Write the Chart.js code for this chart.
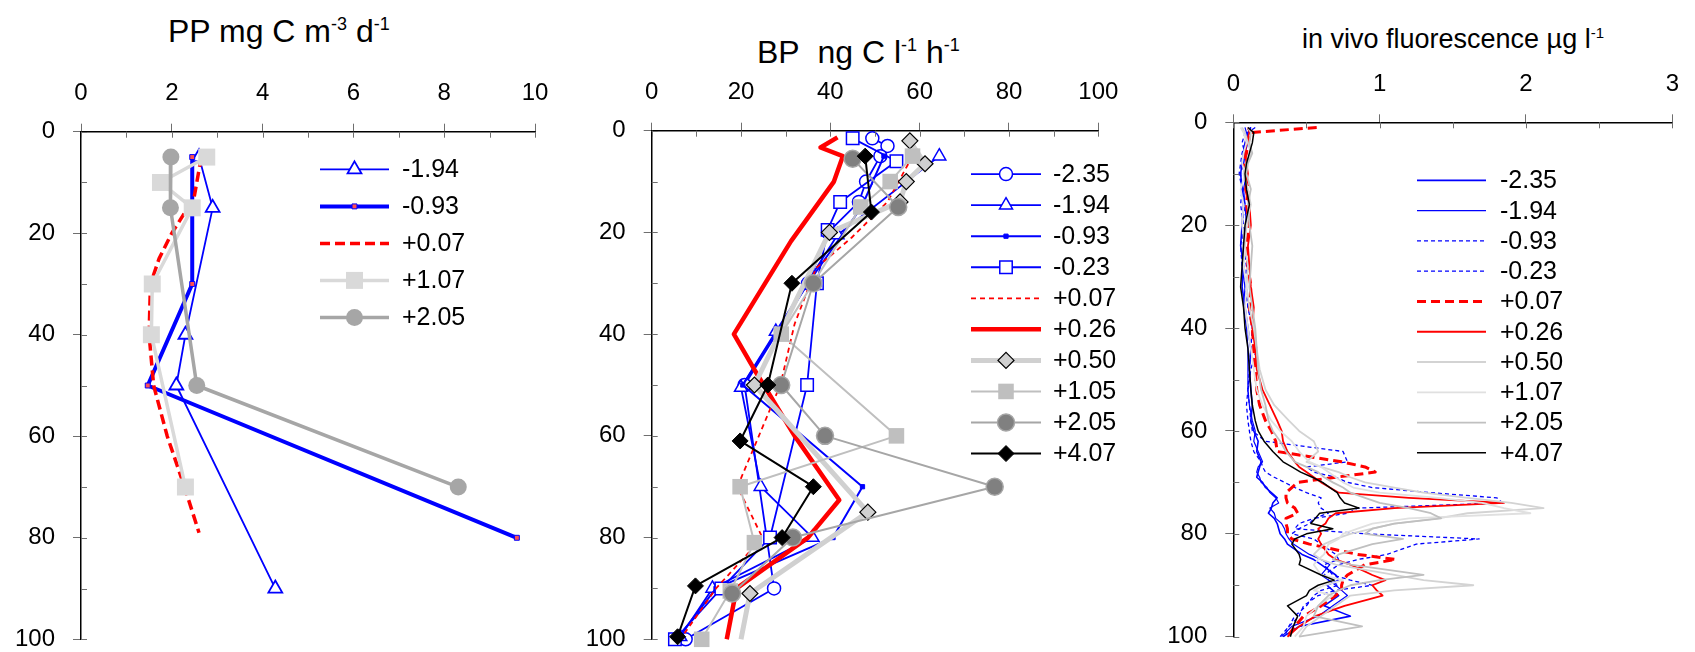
<!DOCTYPE html>
<html>
<head>
<meta charset="utf-8">
<script src="https://cdn.jsdelivr.net/npm/chart.js@4.4.1/dist/chart.umd.min.js"></script>
<style>
  html, body { margin: 0; padding: 0; background: #fff; }
  body { width: 1695px; height: 652px; overflow: hidden; position: relative; font-family: 'Liberation Sans', Arial, sans-serif; }
  canvas { position: absolute; left: 0; top: 0; }
  .title { position: absolute; white-space: nowrap; color: #000; line-height: 1; }
  .sup { position: relative; }
</style>
</head>
<body>
<div class="title" style="left:168px; top:15px; font-size:32px;">PP mg C m<span class="sup" style="font-size:18px; top:-12px;">-3</span> d<span class="sup" style="font-size:18px; top:-12px;">-1</span></div>
<div class="title" style="left:757px; top:36px; font-size:32px;">BP&nbsp; ng C l<span class="sup" style="font-size:18px; top:-12px;">-1</span> h<span class="sup" style="font-size:18px; top:-12px;">-1</span></div>
<div class="title" style="left:1302px; top:26px; font-size:27px;">in vivo fluorescence µg l<span class="sup" style="font-size:15px; top:-10px;">-1</span></div>

<canvas id="ppChart" width="1695" height="700"></canvas>
<canvas id="bpChart" width="1695" height="700"></canvas>
<canvas id="fluChart" width="1695" height="700"></canvas>

<script>
// ---- PP, mg C m-3 d-1 (depth in m) ----
const ppDepthM194 = [5, 15, 40, 50, 90];
const ppM194 = [2.6, 2.9, 2.3, 2.1, 4.28];
const ppDepthM093 = [5, 30, 50, 80];
const ppM093 = [2.45, 2.45, 1.47, 9.6];
const ppDepthP007 = [5, 13, 20, 25, 30, 40, 50, 60, 70, 79];
const ppP007 = [2.65, 2.49, 2.0, 1.72, 1.53, 1.5, 1.6, 1.9, 2.28, 2.6];
const ppDepthP107 = [5, 10, 15, 30, 40, 70];
const ppP107 = [2.77, 1.75, 2.45, 1.57, 1.55, 2.3];
const ppDepthP205 = [5, 15, 50, 70];
const ppP205 = [1.98, 1.97, 2.55, 8.31];

// ---- BP, ng C l-1 h-1 ----
const bpDepthM235 = [1.5, 3, 5, 10, 14, 20, 30, 50, 90, 100];
const bpM235 = [49.4, 52.8, 51.2, 48, 46.4, 39.5, 35, 20.8, 27.4, 7.6];
const bpDepthM194 = [5, 20.5, 39.5, 50.5, 70, 80, 90, 99.5];
const bpM194 = [64.4, 41.6, 27.8, 20, 24.4, 36, 13.6, 6.4];
const bpDepthM093 = [5, 15, 30, 50, 70, 80, 90, 100];
const bpM093 = [52, 47, 35, 20.4, 47.2, 40.6, 14.4, 5.6];
const bpDepthM023 = [1.5, 6, 14, 19.5, 30, 50, 80, 90, 100];
const bpM023 = [45, 54.8, 42.2, 39.4, 37, 34.8, 26.5, 15.6, 5.2];
const bpDepthP007 = [5, 14, 21, 27, 38, 50, 60, 70, 80, 90, 100];
const bpP007 = [58.4, 52.8, 44.8, 36.8, 32, 28.8, 24, 19.2, 24.8, 14.4, 6.4];
const bpDepthP026 = [1.3, 3.3, 5, 10, 21.7, 40, 47, 60, 72.6, 80, 90, 100];
const bpP026 = [41.6, 37.8, 42.8, 40.8, 31.2, 18.4, 23, 32, 42, 35, 19, 16.8];
const bpDepthP050 = [2, 6.5, 10, 14, 20, 50, 75, 91, 100];
const bpP050 = [57.8, 61.2, 57, 55.6, 39.8, 23, 48.4, 22, 20];
const bpDepthP105 = [5, 10, 15, 40, 60, 70, 81, 90.5, 100];
const bpP105 = [58.4, 53.4, 46.8, 29, 54.8, 19.8, 23, 17.6, 11.2];
const bpDepthP205 = [5.5, 15, 30, 50, 60, 70, 80, 91];
const bpP205 = [45, 55.2, 36.2, 29, 38.8, 76.8, 31.6, 18];
const bpDepthP407 = [5, 16, 30, 50, 61, 70, 80, 89.5, 99.5];
const bpP407 = [47.8, 49.2, 31.4, 26, 19.8, 36.2, 29.2, 9.8, 5.8];

// ---- in vivo fluorescence, µg l-1, shared depth grid ----
const fluDepth = [1, 2, 4, 6, 8, 10, 13, 16, 20, 24,
  28, 32, 36, 40, 44, 48, 52, 55, 58, 60,
  62, 64, 66, 67, 68, 69, 70, 71, 72, 73,
  74, 75, 76, 77, 78, 79, 80, 81, 82, 84,
  85, 86, 88, 89, 90, 91, 92, 94, 96, 98,
  100];
const fluM235 = [0.12, 0.10, 0.08, 0.07, 0.06, 0.05, 0.06, 0.07, 0.06, 0.05,
  0.07, 0.06, 0.08, 0.10, 0.12, 0.11, 0.12, 0.13, 0.12, 0.14,
  0.17, 0.16, 0.19, 0.18, 0.17, 0.16, 0.20, 0.22, 0.26, 0.30,
  0.27, 0.26, 0.24, 0.28, 0.30, 0.31, 0.32, 0.35, 0.37, 0.47,
  0.55, 0.60, 0.70, 0.72, 0.64, 0.68, 0.72, 0.62, 0.80, 0.45,
  0.34];
const fluM194 = [0.08, 0.09, 0.10, 0.08, 0.07, 0.09, 0.07, 0.08, 0.09, 0.07,
  0.06, 0.08, 0.07, 0.09, 0.10, 0.10, 0.10, 0.11, 0.13, 0.15,
  0.14, 0.17, 0.20, 0.17, 0.16, 0.18, 0.19, 0.23, 0.25, 0.29,
  0.31, 0.25, 0.28, 0.29, 0.33, 0.35, 0.36, 0.38, 0.41, 0.52,
  0.60, 0.66, 0.60, 0.65, 0.70, 0.74, 0.78, 0.68, 0.58, 0.40,
  0.33];
const fluM093 = [0.15, 0.10, 0.08, 0.06, 0.05, 0.04, 0.06, 0.05, 0.07, 0.05,
  0.06, 0.09, 0.10, 0.14, 0.16, 0.12, 0.10, 0.11, 0.12, 0.13,
  0.22, 0.75, 0.78, 0.50, 0.55, 0.70, 0.78, 0.95, 1.35, 1.80,
  1.84, 0.85, 0.78, 0.55, 0.52, 0.45, 0.40, 0.55, 0.60, 0.70,
  0.72, 0.62, 0.68, 0.80, 0.95, 0.70, 0.58, 0.48, 0.45, 0.38,
  0.32];
const fluM023 = [0.12, 0.08, 0.06, 0.08, 0.07, 0.05, 0.06, 0.08, 0.06, 0.07,
  0.09, 0.08, 0.10, 0.13, 0.12, 0.11, 0.10, 0.09, 0.10, 0.11,
  0.12, 0.14, 0.19, 0.20, 0.22, 0.28, 0.35, 0.42, 0.50, 0.60,
  0.58, 0.60, 0.65, 0.55, 0.45, 0.42, 0.90, 1.68, 1.25, 1.05,
  0.85, 0.72, 0.62, 0.65, 0.72, 0.60, 0.55, 0.50, 0.42, 0.38,
  0.35];
const fluP007 = [0.57, 0.12, 0.10, 0.09, 0.07, 0.08, 0.10, 0.09, 0.11, 0.09,
  0.10, 0.12, 0.11, 0.13, 0.14, 0.15, 0.16, 0.18, 0.22, 0.26,
  0.29, 0.30, 0.74, 0.90, 0.97, 0.70, 0.44, 0.40, 0.36, 0.36,
  0.37, 0.42, 0.44, 0.36, 0.36, 0.37, 0.37, 0.40, 0.52, 0.85,
  1.11, 0.90, 0.78, 0.75, 0.74, 0.74, 0.70, 0.60, 0.48, 0.42,
  0.37];
const fluP026 = [0.10, 0.11, 0.09, 0.08, 0.09, 0.10, 0.08, 0.11, 0.12, 0.10,
  0.11, 0.12, 0.14, 0.13, 0.15, 0.16, 0.20, 0.25, 0.30, 0.33,
  0.34, 0.37, 0.42, 0.45, 0.50, 0.55, 0.60, 0.66, 0.72, 1.20,
  1.85, 1.10, 0.70, 0.65, 0.63, 0.58, 0.60, 0.58, 0.60, 0.65,
  0.70, 0.80, 0.95, 1.04, 0.95, 0.98, 1.02, 0.76, 0.56, 0.45,
  0.37];
const fluP050 = [0.06, 0.08, 0.10, 0.12, 0.09, 0.07, 0.10, 0.12, 0.09, 0.08,
  0.10, 0.09, 0.11, 0.14, 0.16, 0.18, 0.22, 0.28, 0.38, 0.45,
  0.55, 0.58, 0.50, 0.60, 0.72, 0.80, 0.90, 1.10, 1.30, 1.60,
  1.90, 2.12, 1.60, 1.40, 1.10, 0.95, 0.80, 0.70, 0.62, 0.55,
  0.60, 0.70, 1.10, 1.30, 1.64, 1.10, 0.80, 0.70, 0.60, 0.50,
  0.45];
const fluP107 = [0.05, 0.07, 0.09, 0.07, 0.06, 0.08, 0.05, 0.07, 0.06, 0.08,
  0.07, 0.09, 0.08, 0.10, 0.12, 0.14, 0.16, 0.20, 0.26, 0.32,
  0.40, 0.45, 0.52, 0.60, 0.65, 0.70, 0.75, 0.82, 1.00, 1.40,
  1.70, 1.85, 2.03, 1.20, 0.95, 0.85, 0.75, 0.72, 0.65, 0.62,
  0.58, 0.55, 0.60, 0.75, 0.62, 0.55, 0.68, 0.58, 0.50, 0.48,
  0.42];
const fluP205 = [0.10, 0.12, 0.11, 0.13, 0.10, 0.09, 0.12, 0.10, 0.11, 0.13,
  0.12, 0.11, 0.13, 0.15, 0.16, 0.17, 0.19, 0.22, 0.24, 0.27,
  0.32, 0.36, 0.42, 0.50, 0.58, 0.62, 0.68, 0.75, 0.80, 0.90,
  1.00, 1.20, 1.35, 1.42, 1.10, 0.95, 0.90, 1.16, 0.95, 0.72,
  0.68, 0.80, 1.30, 1.00, 0.80, 0.72, 0.65, 0.58, 0.55, 0.88,
  0.45];
const fluP407 = [0.10, 0.14, 0.13, 0.11, 0.09, 0.08, 0.09, 0.11, 0.08, 0.07,
  0.06, 0.05, 0.07, 0.08, 0.10, 0.11, 0.12, 0.13, 0.15, 0.17,
  0.21, 0.27, 0.34, 0.40, 0.46, 0.54, 0.61, 0.66, 0.71, 0.73,
  0.76, 0.86, 0.59, 0.56, 0.53, 0.68, 0.50, 0.42, 0.40, 0.45,
  0.46, 0.45, 0.60, 0.69, 0.58, 0.52, 0.50, 0.37, 0.44, 0.41,
  0.39];

const FONT = "'Liberation Sans', Arial, sans-serif";
Chart.defaults.font.family = FONT;
Chart.defaults.color = '#000';

function profile(depths, values) {
    return depths.map((d, i) => ({ x: values[i], y: d }));
}

function series(label, depths, values, style) {
    return Object.assign({
        label: label,
        data: profile(depths, values),
        showLine: true,
        fill: false,
        tension: 0,
        clip: false,
        pointRadius: 0,
        borderJoinStyle: 'round'
    }, style);
}

// small inward ticks like the spreadsheet's minor ticks
const minorTicks = {
    id: 'minorTicks',
    afterDatasetsDraw(chart, args, opts) {
        const { ctx, chartArea } = chart;
        const xs = chart.scales.x;
        const ys = chart.scales.y;
        ctx.save();
        ctx.strokeStyle = '#6f6f6f';
        ctx.lineWidth = 1;
        ctx.beginPath();
        for (let v = xs.min; v <= xs.max + 1e-9; v += opts.x) {
            const px = Math.round(xs.getPixelForValue(v)) + 0.5;
            ctx.moveTo(px, chartArea.top);
            ctx.lineTo(px, chartArea.top + opts.len);
        }
        for (let v = ys.min; v <= ys.max + 1e-9; v += opts.y) {
            const py = Math.round(ys.getPixelForValue(v)) + 0.5;
            ctx.moveTo(chartArea.left, py);
            ctx.lineTo(chartArea.left + opts.len, py);
        }
        ctx.stroke();
        ctx.restore();
    }
};

function drawMarker(ctx, ds, x, y) {
    const r = Array.isArray(ds.pointRadius) ? ds.pointRadius[0] : ds.pointRadius;
    if (!r) return;
    ctx.save();
    ctx.setLineDash([]);
    ctx.fillStyle = ds.pointBackgroundColor;
    ctx.strokeStyle = ds.pointBorderColor;
    ctx.lineWidth = ds.pointBorderWidth || 0;
    Chart.helpers.drawPoint(ctx, {
        pointStyle: ds.pointStyle,
        rotation: 0,
        radius: r,
        borderWidth: ds.pointBorderWidth || 0
    }, x, y);
    ctx.restore();
}

// legend drawn beside the profiles, one row per dataset
const sideLegend = {
    id: 'sideLegend',
    afterDatasetsDraw(chart, args, opts) {
        const ctx = chart.ctx;
        chart.data.datasets.forEach((ds, i) => {
            const y = opts.y0 + i * opts.step;
            ctx.save();
            ctx.strokeStyle = ds.borderColor;
            ctx.lineWidth = ds.borderWidth;
            ctx.setLineDash(ds.borderDash || []);
            ctx.beginPath();
            ctx.moveTo(opts.x1, y);
            ctx.lineTo(opts.x2, y);
            ctx.stroke();
            ctx.restore();
            drawMarker(ctx, ds, (opts.x1 + opts.x2) / 2, y);
            ctx.save();
            ctx.fillStyle = '#000';
            ctx.font = '25px ' + FONT;
            ctx.textAlign = 'left';
            ctx.textBaseline = 'middle';
            ctx.fillText(ds.label, opts.tx, y + 1);
            ctx.restore();
        });
    }
};

function axes(xMax, xStep) {
    const grid = { drawOnChartArea: false, drawTicks: true, tickLength: 8, color: '#6f6f6f', lineWidth: 1 };
    const border = { display: true, color: '#000', width: 1.5 };
    return {
        x: {
            type: 'linear', position: 'top', min: 0, max: xMax,
            ticks: { stepSize: xStep, padding: 16, font: { size: 24 }, maxRotation: 0, autoSkip: false },
            grid: grid, border: border,
            afterFit: (s) => { s.height = 50; }
        },
        y: {
            type: 'linear', reverse: true, min: 0, max: 100,
            ticks: { stepSize: 20, padding: 18, font: { size: 24 }, autoSkip: false },
            grid: grid, border: border,
            afterFit: (s) => { s.width = 80; }
        }
    };
}

function makeChart(id, datasets, scales, padding, minor, legend) {
    const n = datasets.length;
    datasets.forEach((ds, i) => { ds.order = n - i; });
    return new Chart(document.getElementById(id), {
        type: 'scatter',
        data: { datasets: datasets },
        options: {
            responsive: false,
            devicePixelRatio: 1,
            animation: false,
            events: [],
            layout: { padding: padding },
            scales: scales,
            plugins: {
                legend: { display: false },
                tooltip: { enabled: false },
                minorTicks: minor,
                sideLegend: legend
            }
        },
        plugins: [minorTicks, sideLegend]
    });
}

const BLUE = '#0000ff';
const RED = '#ff0000';

makeChart('ppChart', [
    series('-1.94', ppDepthM194, ppM194, { borderColor: BLUE, borderWidth: 1.8, pointStyle: 'triangle', pointRadius: 8,
        pointBackgroundColor: '#fff', pointBorderColor: BLUE, pointBorderWidth: 1.8 }),
    series('-0.93', ppDepthM093, ppM093, { borderColor: BLUE, borderWidth: 4, pointStyle: 'rect', pointRadius: 3.5,
        pointBackgroundColor: '#ff5050', pointBorderColor: BLUE, pointBorderWidth: 1 }),
    series('+0.07', ppDepthP007, ppP007, { borderColor: RED, borderWidth: 3.5, borderDash: [10, 5] }),
    series('+1.07', ppDepthP107, ppP107, { borderColor: '#d9d9d9', borderWidth: 3.5, pointStyle: 'rect', pointRadius: 12,
        pointBackgroundColor: '#d9d9d9', pointBorderColor: '#d9d9d9', pointBorderWidth: 0 }),
    series('+2.05', ppDepthP205, ppP205, { borderColor: '#a6a6a6', borderWidth: 3.5, pointStyle: 'circle', pointRadius: 8.5,
        pointBackgroundColor: '#a6a6a6', pointBorderColor: '#a6a6a6', pointBorderWidth: 0 })
], axes(10, 2), { left: 1, right: 1160, top: 81.7, bottom: 60.7 },
   { x: 1, y: 10, len: 6 },
   { x1: 320, x2: 389, tx: 402, y0: 169.4, step: 37 });

makeChart('bpChart', [
    series('-2.35', bpDepthM235, bpM235, { borderColor: BLUE, borderWidth: 1.8, pointStyle: 'circle', pointRadius: 6.5,
        pointBackgroundColor: '#fff', pointBorderColor: BLUE, pointBorderWidth: 1.5 }),
    series('-1.94', bpDepthM194, bpM194, { borderColor: BLUE, borderWidth: 1.8, pointStyle: 'triangle', pointRadius: 7.5,
        pointBackgroundColor: '#fff', pointBorderColor: BLUE, pointBorderWidth: 1.5 }),
    series('-0.93', bpDepthM093, bpM093, { borderColor: BLUE, borderWidth: 2, pointStyle: 'rect', pointRadius: 3,
        pointBackgroundColor: BLUE, pointBorderColor: BLUE, pointBorderWidth: 1 }),
    series('-0.23', bpDepthM023, bpM023, { borderColor: BLUE, borderWidth: 1.8, pointStyle: 'rect', pointRadius: 8.8,
        pointBackgroundColor: '#fff', pointBorderColor: BLUE, pointBorderWidth: 1.5 }),
    series('+0.07', bpDepthP007, bpP007, { borderColor: RED, borderWidth: 1.8, borderDash: [5, 4] }),
    series('+0.26', bpDepthP026, bpP026, { borderColor: RED, borderWidth: 4.5 }),
    series('+0.50', bpDepthP050, bpP050, { borderColor: '#d0d0d0', borderWidth: 5, pointStyle: 'rectRot',
        pointRadius: [8, 8, 8, 8, 8, 8, 8, 8, 0],
        pointBackgroundColor: '#d0d0d0', pointBorderColor: '#000', pointBorderWidth: 1.2 }),
    series('+1.05', bpDepthP105, bpP105, { borderColor: '#bfbfbf', borderWidth: 2, pointStyle: 'rect', pointRadius: 11,
        pointBackgroundColor: '#bfbfbf', pointBorderColor: '#bfbfbf', pointBorderWidth: 0 }),
    series('+2.05', bpDepthP205, bpP205, { borderColor: '#a6a6a6', borderWidth: 2, pointStyle: 'circle', pointRadius: 8.5,
        pointBackgroundColor: '#808080', pointBorderColor: '#a6a6a6', pointBorderWidth: 1.5 }),
    series('+4.07', bpDepthP407, bpP407, { borderColor: '#000', borderWidth: 2, pointStyle: 'rectRot', pointRadius: 8,
        pointBackgroundColor: '#000', pointBorderColor: '#000', pointBorderWidth: 1 })
], axes(100, 20), { left: 571.7, right: 596.7, top: 80.7, bottom: 60.7 },
   { x: 10, y: 10, len: 6 },
   { x1: 971, x2: 1041, tx: 1053, y0: 174.1, step: 31.05 });

makeChart('fluChart', [
    series('-2.35', fluDepth, fluM235, { borderColor: BLUE, borderWidth: 1.6 }),
    series('-1.94', fluDepth, fluM194, { borderColor: BLUE, borderWidth: 1.2 }),
    series('-0.93', fluDepth, fluM093, { borderColor: BLUE, borderWidth: 1.3, borderDash: [4, 3] }),
    series('-0.23', fluDepth, fluM023, { borderColor: BLUE, borderWidth: 1.3, borderDash: [4, 3] }),
    series('+0.07', fluDepth, fluP007, { borderColor: RED, borderWidth: 3, borderDash: [9, 5] }),
    series('+0.26', fluDepth, fluP026, { borderColor: RED, borderWidth: 1.8 }),
    series('+0.50', fluDepth, fluP050, { borderColor: '#d3d3d3', borderWidth: 1.8 }),
    series('+1.07', fluDepth, fluP107, { borderColor: '#e0e0e0', borderWidth: 1.8 }),
    series('+2.05', fluDepth, fluP205, { borderColor: '#c0c0c0', borderWidth: 1.8 }),
    series('+4.07', fluDepth, fluP407, { borderColor: '#000', borderWidth: 1.5 })
], axes(3, 1), { left: 1153.3, right: 13, top: 72.3, bottom: 63.3 },
   { x: 0.5, y: 10, len: 6 },
   { x1: 1417, x2: 1486, tx: 1500, y0: 180.4, step: 30.27 });
</script>
</body>
</html>
